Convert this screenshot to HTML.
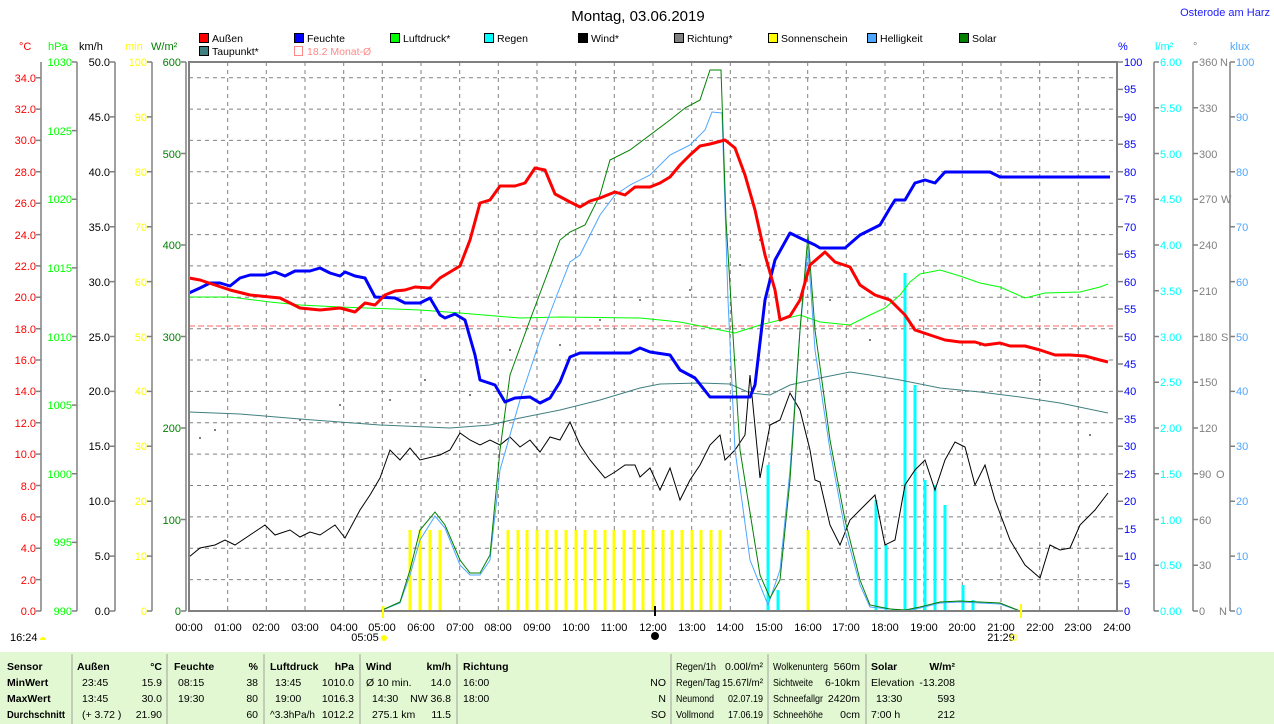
<!DOCTYPE html>
<html><head><meta charset="utf-8"><style>
body{margin:0;background:#fff;width:1274px;height:724px;overflow:hidden;font-family:"Liberation Sans",sans-serif}
svg{position:absolute;left:0;top:0}
text{font-family:"Liberation Sans",sans-serif;font-size:11px}
.t text{font-size:10.5px}
.lg text{font-size:10.5px}
</style></head><body>
<svg width="1274" height="724" viewBox="0 0 1274 724">
<text x="638" y="21" text-anchor="middle" style="font-size:15px" fill="#000">Montag, 03.06.2019</text>
<text x="1270" y="16" text-anchor="end" fill="#2020ff">Osterode am Harz</text>
<!-- legend -->
<g stroke="#000" stroke-width="1">
<rect x="199.5" y="33.5" width="9" height="9" fill="#f00"/><rect x="294.5" y="33.5" width="9" height="9" fill="#00f"/>
<rect x="390.5" y="33.5" width="9" height="9" fill="#0f0"/><rect x="484.5" y="33.5" width="9" height="9" fill="#0ff"/>
<rect x="578.5" y="33.5" width="9" height="9" fill="#000"/><rect x="674.5" y="33.5" width="9" height="9" fill="#808080"/>
<rect x="768.5" y="33.5" width="9" height="9" fill="#ff0"/><rect x="867.5" y="33.5" width="9" height="9" fill="#4da6ff"/>
<rect x="959.5" y="33.5" width="9" height="9" fill="#008000"/><rect x="199.5" y="46.5" width="9" height="9" fill="#408080"/>
</g>
<rect x="294.5" y="46.5" width="8" height="9" fill="none" stroke="#f88"/>
<g fill="#000" class="lg">
<text x="212" y="42">Außen</text><text x="307" y="42">Feuchte</text><text x="403" y="42">Luftdruck*</text><text x="497" y="42">Regen</text>
<text x="591" y="42">Wind*</text><text x="687" y="42">Richtung*</text><text x="781" y="42">Sonnenschein</text><text x="880" y="42">Helligkeit</text>
<text x="972" y="42">Solar</text><text x="212" y="55">Taupunkt*</text>
<text x="307" y="55" fill="#f88">18.2 Monat-Ø</text></g>
<!-- unit headers -->
<text x="19" y="50" fill="#f00">°C</text><text x="48" y="50" fill="#0f0">hPa</text><text x="79" y="50" fill="#000">km/h</text>
<text x="125" y="50" fill="#ff0">min</text><text x="151" y="50" fill="#008000">W/m²</text>
<text x="1118" y="50" fill="#00f">%</text><text x="1155" y="50" fill="#0ff">l/m²</text><text x="1193" y="50" fill="#808080">°</text><text x="1230" y="50" fill="#4da6ff">klux</text>
<!-- grid -->
<g stroke="#808080" stroke-dasharray="4,4" stroke-width="1">
<path d="M189 77.7H1117M189 109.1H1117M189 140.4H1117M189 171.8H1117M189 203.2H1117M189 234.6H1117M189 265.9H1117M189 297.3H1117M189 328.7H1117M189 360H1117M189 391.4H1117M189 422.8H1117M189 454.1H1117M189 485.5H1117M189 516.9H1117M189 548.3H1117M189 579.6H1117"/>
<path d="M227.7 62V611M266.3 62V611M305 62V611M343.7 62V611M382.3 62V611M421 62V611M459.7 62V611M498.3 62V611M537 62V611M575.7 62V611M614.3 62V611M653 62V611M691.7 62V611M730.3 62V611M769 62V611M807.7 62V611M846.3 62V611M885 62V611M923.7 62V611M962.3 62V611M1001 62V611M1039.7 62V611M1078.3 62V611"/>
</g>
<!-- axes lines -->
<g stroke="#808080" stroke-width="1.5" fill="none">
<path d="M41 62V611M77 62V611M115 62V611M152 62V611M186 62V611M1154 62V611M1193 62V611M1230 62V611"/>
<path d="M36 611H41M36 579.6H41M36 548.3H41M36 516.9H41M36 485.5H41M36 454.1H41M36 422.8H41M36 391.4H41M36 360H41M36 328.7H41M36 297.3H41M36 265.9H41M36 234.6H41M36 203.2H41M36 171.8H41M36 140.4H41M36 109.1H41M36 77.7H41"/>
<path d="M72 611H77M72 542.4H77M72 473.75H77M72 405.1H77M72 336.5H77M72 267.9H77M72 199.25H77M72 130.6H77M72 62H77"/>
<path d="M110 611H115M110 556.1H115M110 501.2H115M110 446.3H115M110 391.4H115M110 336.5H115M110 281.6H115M110 226.7H115M110 171.8H115M110 116.9H115M110 62H115"/>
<path d="M147 611H152M147 556.1H152M147 501.2H152M147 446.3H152M147 391.4H152M147 336.5H152M147 281.6H152M147 226.7H152M147 171.8H152M147 116.9H152M147 62H152"/>
<path d="M181 611H186M181 519.5H186M181 428H186M181 336.5H186M181 245H186M181 153.5H186M181 62H186"/>
<path d="M1117 611H1123M1117 583.5H1123M1117 556.1H1123M1117 528.6H1123M1117 501.2H1123M1117 473.7H1123M1117 446.3H1123M1117 418.8H1123M1117 391.4H1123M1117 364H1123M1117 336.5H1123M1117 309H1123M1117 281.6H1123M1117 254.1H1123M1117 226.7H1123M1117 199.2H1123M1117 171.8H1123M1117 144.3H1123M1117 116.9H1123M1117 89.4H1123M1117 62H1123"/>
<path d="M1154 611H1159M1154 565.2H1159M1154 519.5H1159M1154 473.7H1159M1154 428H1159M1154 382.2H1159M1154 336.5H1159M1154 290.7H1159M1154 245H1159M1154 199.2H1159M1154 153.5H1159M1154 107.7H1159M1154 62H1159"/>
<path d="M1193 611H1198M1193 565.2H1198M1193 519.5H1198M1193 473.7H1198M1193 428H1198M1193 382.2H1198M1193 336.5H1198M1193 290.7H1198M1193 245H1198M1193 199.2H1198M1193 153.5H1198M1193 107.7H1198M1193 62H1198"/>
<path d="M1230 611H1235M1230 556.1H1235M1230 501.2H1235M1230 446.3H1235M1230 391.4H1235M1230 336.5H1235M1230 281.6H1235M1230 226.7H1235M1230 171.8H1235M1230 116.9H1235M1230 62H1235"/>
</g>
<!-- left labels -->
<g fill="#f00" text-anchor="end"><text x="36" y="615">0.0</text><text x="36" y="584">2.0</text><text x="36" y="552">4.0</text><text x="36" y="521">6.0</text><text x="36" y="490">8.0</text><text x="36" y="458">10.0</text><text x="36" y="427">12.0</text><text x="36" y="395">14.0</text><text x="36" y="364">16.0</text><text x="36" y="333">18.0</text><text x="36" y="301">20.0</text><text x="36" y="270">22.0</text><text x="36" y="239">24.0</text><text x="36" y="207">26.0</text><text x="36" y="176">28.0</text><text x="36" y="144">30.0</text><text x="36" y="113">32.0</text><text x="36" y="82">34.0</text></g>
<g fill="#0f0" text-anchor="end"><text x="72" y="615">990</text><text x="72" y="546">995</text><text x="72" y="478">1000</text><text x="72" y="409">1005</text><text x="72" y="341">1010</text><text x="72" y="272">1015</text><text x="72" y="203">1020</text><text x="72" y="135">1025</text><text x="72" y="66">1030</text></g>
<g fill="#000" text-anchor="end"><text x="110" y="615">0.0</text><text x="110" y="560">5.0</text><text x="110" y="505">10.0</text><text x="110" y="450">15.0</text><text x="110" y="395">20.0</text><text x="110" y="341">25.0</text><text x="110" y="286">30.0</text><text x="110" y="231">35.0</text><text x="110" y="176">40.0</text><text x="110" y="121">45.0</text><text x="110" y="66">50.0</text></g>
<g fill="#ff0" text-anchor="end"><text x="147" y="615">0</text><text x="147" y="560">10</text><text x="147" y="505">20</text><text x="147" y="450">30</text><text x="147" y="395">40</text><text x="147" y="341">50</text><text x="147" y="286">60</text><text x="147" y="231">70</text><text x="147" y="176">80</text><text x="147" y="121">90</text><text x="147" y="66">100</text></g>
<g fill="#008000" text-anchor="end"><text x="181" y="615">0</text><text x="181" y="524">100</text><text x="181" y="432">200</text><text x="181" y="341">300</text><text x="181" y="249">400</text><text x="181" y="158">500</text><text x="181" y="66">600</text></g>
<!-- right labels -->
<g fill="#00f"><text x="1124" y="615">0</text><text x="1124" y="588">5</text><text x="1124" y="560">10</text><text x="1124" y="533">15</text><text x="1124" y="505">20</text><text x="1124" y="478">25</text><text x="1124" y="450">30</text><text x="1124" y="423">35</text><text x="1124" y="395">40</text><text x="1124" y="368">45</text><text x="1124" y="341">50</text><text x="1124" y="313">55</text><text x="1124" y="286">60</text><text x="1124" y="258">65</text><text x="1124" y="231">70</text><text x="1124" y="203">75</text><text x="1124" y="176">80</text><text x="1124" y="148">85</text><text x="1124" y="121">90</text><text x="1124" y="93">95</text><text x="1124" y="66">100</text></g>
<g fill="#0ff"><text x="1160" y="615">0.00</text><text x="1160" y="569">0.50</text><text x="1160" y="524">1.00</text><text x="1160" y="478">1.50</text><text x="1160" y="432">2.00</text><text x="1160" y="386">2.50</text><text x="1160" y="341">3.00</text><text x="1160" y="295">3.50</text><text x="1160" y="249">4.00</text><text x="1160" y="203">4.50</text><text x="1160" y="158">5.00</text><text x="1160" y="112">5.50</text><text x="1160" y="66">6.00</text></g>
<g fill="#808080"><text x="1199" y="615">0</text><text x="1199" y="569">30</text><text x="1199" y="524">60</text><text x="1199" y="478">90</text><text x="1199" y="432">120</text><text x="1199" y="386">150</text><text x="1199" y="341">180</text><text x="1199" y="295">210</text><text x="1199" y="249">240</text><text x="1199" y="203">270</text><text x="1199" y="158">300</text><text x="1199" y="112">330</text><text x="1199" y="66">360</text>
<text x="1219" y="615">N</text><text x="1216" y="478">O</text><text x="1221" y="341">S</text><text x="1221" y="203">W</text><text x="1220" y="66">N</text></g>
<g fill="#4da6ff"><text x="1236" y="615">0</text><text x="1236" y="560">10</text><text x="1236" y="505">20</text><text x="1236" y="450">30</text><text x="1236" y="395">40</text><text x="1236" y="341">50</text><text x="1236" y="286">60</text><text x="1236" y="231">70</text><text x="1236" y="176">80</text><text x="1236" y="121">90</text><text x="1236" y="66">100</text></g>
<!-- bars -->
<g stroke="#ff0" stroke-width="3">
<path d="M410 611V530M420 611V530M430 611V530M440 611V530M508 611V530M518 611V530M527 611V530M537 611V530M547 611V530M556 611V530M566 611V530M576 611V530M585 611V530M595 611V530M605 611V530M614 611V530M624 611V530M634 611V530M643 611V530M653 611V530M663 611V530M672 611V530M682 611V530M692 611V530M701 611V530M711 611V530M720 611V530M808 611V530M383 611V606"/>
</g>
<g stroke="#0ff" stroke-width="3">
<path d="M768 611V465M778 611V590M876 611V500M886 611V545M905 611V273M915 611V385M925 611V480M935 611V485M945 611V505M963 611V585M973 611V600"/>
</g>
<path d="M189 326H1117" stroke="#f66" stroke-dasharray="6,3" stroke-width="1"/>
<!-- direction dots -->
<g fill="#555"><circle cx="200" cy="438" r="1"/><circle cx="215" cy="430" r="1"/><circle cx="300" cy="420" r="1"/><circle cx="340" cy="405" r="1"/><circle cx="390" cy="400" r="1"/><circle cx="425" cy="380" r="1"/><circle cx="470" cy="395" r="1"/><circle cx="510" cy="350" r="1"/><circle cx="560" cy="345" r="1"/><circle cx="600" cy="320" r="1"/><circle cx="640" cy="300" r="1"/><circle cx="690" cy="290" r="1"/><circle cx="740" cy="265" r="1"/><circle cx="760" cy="240" r="1"/><circle cx="790" cy="290" r="1"/><circle cx="830" cy="300" r="1"/><circle cx="870" cy="340" r="1"/><circle cx="920" cy="320" r="1"/><circle cx="980" cy="345" r="1"/><circle cx="1040" cy="380" r="1"/><circle cx="1090" cy="435" r="1"/></g>
<!-- series -->
<polyline fill="none" stroke="#408080" stroke-width="1" points="189,412 240,414 300,419 380,425 450,428 490,425 520,418 560,410 600,400 640,388 660,384 700,383 730,384 750,393 770,395 790,385 820,378 850,372 870,375 900,380 940,388 980,392 1020,397 1060,403 1108,413"/>
<polyline fill="none" stroke="#0f0" stroke-width="1" points="189,297 230,297 270,302 300,305 340,307 420,310 460,313 520,318 560,317 640,318 680,322 710,328 735,333 760,325 800,315 820,322 850,325 870,315 885,308 900,295 910,282 920,274 940,270 960,276 980,283 1000,287 1025,298 1045,293 1080,292 1100,287 1108,284"/>
<polyline fill="none" stroke="#000" stroke-width="1" points="189,557 200,548 215,545 225,540 235,545 250,535 265,525 275,535 290,530 300,537 310,532 320,535 335,525 345,538 360,510 370,495 380,478 390,450 400,460 410,448 420,460 440,455 450,450 460,433 470,440 480,445 490,440 500,445 510,437 520,447 530,440 540,452 550,437 560,440 570,422 580,445 590,460 605,478 615,472 625,465 635,465 640,477 650,468 660,490 670,468 680,500 690,480 700,465 710,445 720,435 725,460 735,450 745,435 750,375 760,478 770,425 780,420 790,393 800,410 810,450 815,480 820,482 830,525 840,545 850,520 865,505 875,495 885,545 895,540 905,485 915,470 925,460 935,490 945,460 955,442 965,447 975,485 985,465 995,500 1010,540 1025,565 1040,578 1050,545 1060,550 1070,548 1080,525 1095,510 1108,493"/>
<polyline fill="none" stroke="#4da6ff" stroke-width="1" points="370,611 380,611 400,603 410,575 420,540 435,516 445,528 460,565 470,575 480,575 490,560 500,470 520,400 540,340 555,300 570,262 580,255 590,235 600,215 615,195 630,185 650,175 670,155 690,145 705,130 712,112 722,113 728,300 735,450 750,560 768,605 780,570 790,470 800,330 808,250 815,350 830,450 845,530 860,585 870,607 890,609 905,611 920,608 940,603 960,602 1000,604 1020,611"/>
<polyline fill="none" stroke="#008000" stroke-width="1" points="370,611 380,611 400,602 410,570 420,530 435,512 445,525 460,560 470,573 480,573 490,555 500,450 510,375 530,320 545,280 560,240 570,232 585,225 600,195 610,160 630,150 650,135 670,120 685,108 700,100 710,70 721,70 726,220 740,450 760,575 770,598 780,580 790,480 800,330 808,235 815,330 830,440 845,520 860,580 870,605 890,609 905,610 920,607 940,602 960,601 1000,603 1020,611"/>
<polyline fill="none" stroke="#00f" stroke-width="3" stroke-linejoin="round" points="189,293 200,288 210,283 220,283 230,286 240,278 250,275 265,275 275,272 285,276 295,271 310,271 320,268 330,273 340,276 345,272 355,276 365,278 375,297 395,298 405,303 420,303 430,298 440,315 445,318 455,314 465,320 475,355 480,380 495,385 505,402 515,398 530,397 540,403 550,398 560,382 570,357 580,353 630,353 640,348 650,352 670,355 680,370 695,378 710,397 750,397 755,385 765,300 775,260 790,233 800,238 815,245 820,248 845,248 860,235 880,225 890,208 895,200 905,200 915,183 925,180 935,183 945,172 990,172 1000,177 1110,177"/>
<polyline fill="none" stroke="#f00" stroke-width="3" stroke-linejoin="round" points="189,278 200,280 215,285 230,290 250,295 280,298 300,308 320,310 340,308 355,312 365,303 375,305 385,295 395,291 405,290 415,287 430,288 440,278 450,272 460,266 470,240 480,203 490,200 500,186 515,186 525,183 535,168 545,170 555,194 570,202 580,207 590,201 600,198 615,192 625,195 635,187 650,187 660,183 670,177 680,165 690,155 700,146 710,144 725,140 735,148 745,175 755,210 765,255 775,290 780,320 790,316 800,300 810,265 825,252 835,262 850,267 860,285 875,295 890,300 905,315 915,330 930,335 945,340 960,342 975,342 985,345 1000,343 1010,346 1025,346 1040,350 1055,355 1070,355 1085,356 1100,360 1108,362"/>
<!-- frame -->
<rect x="189" y="62" width="928" height="549" fill="none" stroke="#808080" stroke-width="2"/>
<path d="M383 606V618M1021 604V618" stroke="#ff0" stroke-width="2"/>
<path d="M655 606V616" stroke="#000" stroke-width="2"/>
<!-- hour labels -->
<g fill="#000" text-anchor="middle"><text x="189" y="631">00:00</text><text x="228" y="631">01:00</text><text x="266" y="631">02:00</text><text x="305" y="631">03:00</text><text x="344" y="631">04:00</text><text x="382" y="631">05:00</text><text x="421" y="631">06:00</text><text x="460" y="631">07:00</text><text x="498" y="631">08:00</text><text x="537" y="631">09:00</text><text x="576" y="631">10:00</text><text x="614" y="631">11:00</text><text x="653" y="631">12:00</text><text x="692" y="631">13:00</text><text x="730" y="631">14:00</text><text x="769" y="631">15:00</text><text x="808" y="631">16:00</text><text x="846" y="631">17:00</text><text x="885" y="631">18:00</text><text x="924" y="631">19:00</text><text x="962" y="631">20:00</text><text x="1001" y="631">21:00</text><text x="1040" y="631">22:00</text><text x="1078" y="631">23:00</text><text x="1117" y="631">24:00</text>
<text x="365" y="641">05:05</text><text x="1001" y="641">21:29</text></g>
<text x="10" y="641" fill="#000">16:24</text>
<circle cx="384" cy="638" r="3" fill="#ff0"/><rect x="1011" y="635" width="5" height="5" fill="none" stroke="#ff0"/>
<path d="M40 640a3 3 0 0 1 6 0z" fill="#ff0"/>
<circle cx="655" cy="636" r="4" fill="#000"/>
<!-- table -->
<rect x="0" y="652" width="1274" height="72" fill="#e2f8d2"/>
<g stroke="#a0a0a0" stroke-width="1"><path d="M72 654V724M167 654V724M264 654V724M360 654V724M457 654V724M671 654V724M768 654V724M866 654V724"/></g>
<g class="t">
<g fill="#000" style="font-weight:bold">
<text x="7" y="670">Sensor</text><text x="7" y="686">MinWert</text><text x="7" y="702">MaxWert</text><text x="7" y="718" textLength="58" lengthAdjust="spacingAndGlyphs">Durchschnitt</text>
<text x="77" y="670">Außen</text><text x="162" y="670" text-anchor="end">°C</text>
<text x="174" y="670">Feuchte</text><text x="258" y="670" text-anchor="end">%</text>
<text x="270" y="670">Luftdruck</text><text x="354" y="670" text-anchor="end">hPa</text>
<text x="366" y="670">Wind</text><text x="451" y="670" text-anchor="end">km/h</text>
<text x="463" y="670">Richtung</text>
<text x="871" y="670">Solar</text><text x="955" y="670" text-anchor="end">W/m²</text></g>
<g fill="#000">
<text x="82" y="686">23:45</text><text x="162" y="686" text-anchor="end">15.9</text>
<text x="82" y="702">13:45</text><text x="162" y="702" text-anchor="end">30.0</text>
<text x="82" y="718">(+ 3.72 )</text><text x="162" y="718" text-anchor="end">21.90</text>
<text x="178" y="686">08:15</text><text x="258" y="686" text-anchor="end">38</text>
<text x="178" y="702">19:30</text><text x="258" y="702" text-anchor="end">80</text>
<text x="258" y="718" text-anchor="end">60</text>
<text x="275" y="686">13:45</text><text x="354" y="686" text-anchor="end">1010.0</text>
<text x="275" y="702">19:00</text><text x="354" y="702" text-anchor="end">1016.3</text>
<text x="270" y="718" textLength="45" lengthAdjust="spacingAndGlyphs">^3.3hPa/h</text><text x="354" y="718" text-anchor="end">1012.2</text>
<text x="366" y="686">Ø 10 min.</text><text x="451" y="686" text-anchor="end">14.0</text>
<text x="372" y="702">14:30</text><text x="451" y="702" text-anchor="end">NW 36.8</text>
<text x="372" y="718">275.1 km</text><text x="451" y="718" text-anchor="end">11.5</text>
<text x="463" y="686">16:00</text><text x="666" y="686" text-anchor="end">NO</text>
<text x="463" y="702">18:00</text><text x="666" y="702" text-anchor="end">N</text>
<text x="666" y="718" text-anchor="end">SO</text>
<text x="676" y="670" textLength="40" lengthAdjust="spacingAndGlyphs">Regen/1h</text><text x="763" y="670" text-anchor="end" textLength="38" lengthAdjust="spacingAndGlyphs">0.00l/m²</text>
<text x="676" y="686" textLength="44" lengthAdjust="spacingAndGlyphs">Regen/Tag</text><text x="763" y="686" text-anchor="end" textLength="41" lengthAdjust="spacingAndGlyphs">15.67l/m²</text>
<text x="676" y="702" textLength="38" lengthAdjust="spacingAndGlyphs">Neumond</text><text x="763" y="702" text-anchor="end" textLength="35" lengthAdjust="spacingAndGlyphs">02.07.19</text>
<text x="676" y="718" textLength="38" lengthAdjust="spacingAndGlyphs">Vollmond</text><text x="763" y="718" text-anchor="end" textLength="35" lengthAdjust="spacingAndGlyphs">17.06.19</text>
<text x="773" y="670" textLength="55" lengthAdjust="spacingAndGlyphs">Wolkenunterg</text><text x="860" y="670" text-anchor="end">560m</text>
<text x="773" y="686" textLength="40" lengthAdjust="spacingAndGlyphs">Sichtweite</text><text x="860" y="686" text-anchor="end">6-10km</text>
<text x="773" y="702" textLength="50" lengthAdjust="spacingAndGlyphs">Schneefallgr</text><text x="860" y="702" text-anchor="end">2420m</text>
<text x="773" y="718" textLength="50" lengthAdjust="spacingAndGlyphs">Schneehöhe</text><text x="860" y="718" text-anchor="end">0cm</text>
<text x="871" y="686">Elevation</text><text x="955" y="686" text-anchor="end">-13.208</text>
<text x="876" y="702">13:30</text><text x="955" y="702" text-anchor="end">593</text>
<text x="871" y="718">7:00 h</text><text x="955" y="718" text-anchor="end">212</text>
</g></g>
</svg>
</body></html>
